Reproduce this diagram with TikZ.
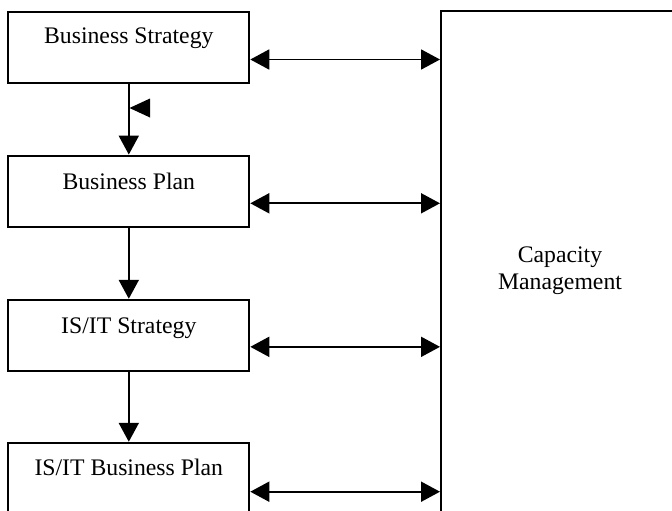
\documentclass[tikz,border=0pt]{standalone}
\usepackage{fontspec}
\setmainfont{Liberation Serif}
\usetikzlibrary{arrows.meta}
\tikzset{
    stage/.style={draw, line width=1.5pt, minimum width=180.75pt, minimum height=53.6pt, inner sep=0pt},
    stagetext/.style={anchor=base, inner sep=0pt, font=\fontsize{17.8}{20.25}\selectfont},
    link/.style={line width=1.4pt, <->},
    flow/.style={line width=1.6pt, ->}
}

\begin{document}
\begin{tikzpicture}[x=0.75pt, y=-0.75pt, >={Triangle[length=14.25pt,width=15pt]}]
\clip (0,0) rectangle (672,511);
\node[stage] (strategy) at (128.8,47.5) {};
\node[stage] (plan) at (128.8,191.3) {};
\node[stage] (isstrategy) at (128.8,335.5) {};
\node[stage] (isplan) at (128.8,478.5) {};
\node[stagetext] (strategytext) at ([yshift=-24.75pt]strategy.north) {Business Strategy};
\node[stagetext] (plantext) at ([yshift=-26pt]plan.north) {Business Plan};
\node[stagetext] (isstrategytext) at ([yshift=-26pt]isstrategy.north) {IS/IT Strategy};
\node[stagetext] (isplantext) at ([yshift=-25.5pt]isplan.north) {IS/IT Business Plan};
\node[draw, line width=1.5pt, minimum width=178.5pt, minimum height=390pt, inner sep=0pt, align=center, font=\fontsize{17.8}{20.25}\selectfont] (capacity) at (560,271) {Capacity\\Management};
\draw[flow] (strategy) -- (plan);
\draw[flow] (plan) -- (isstrategy);
\draw[flow] (isstrategy) -- (isplan);
\coordinate (tip) at (129.5,108);
\fill (tip) -- ++(20.5,-9.5) -- ++(0,19) -- cycle;
\coordinate (s1) at ([yshift=-9pt]strategy.east);
\coordinate (s2) at ([yshift=-9pt]plan.east);
\coordinate (s3) at ([yshift=-8.5pt]isstrategy.east);
\coordinate (s4) at ([yshift=-9.9pt]isplan.east);
\draw[link] (s1) -- (s1 -| capacity.west);
\draw[link] (s2) -- (s2 -| capacity.west);
\draw[link] (s3) -- (s3 -| capacity.west);
\draw[link] (s4) -- (s4 -| capacity.west);
\end{tikzpicture}
\end{document}
